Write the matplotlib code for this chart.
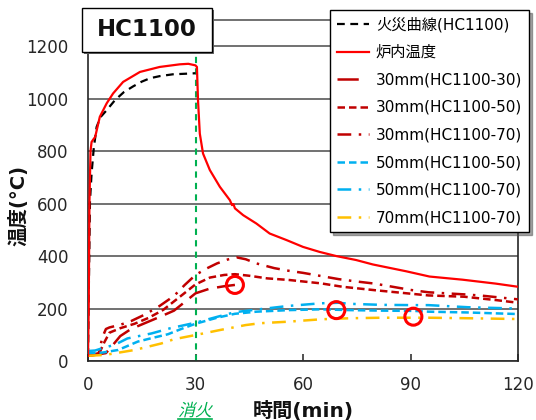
import matplotlib
matplotlib.use('Agg')
import matplotlib.pyplot as plt
from matplotlib.patches import Rectangle, PathPatch
from matplotlib.lines import Line2D
from matplotlib.textpath import TextPath
from matplotlib.font_manager import FontProperties
from matplotlib.transforms import Affine2D

plt.rcParams['font.family'] = ['DejaVu Sans', 'Noto Sans CJK JP']

# ---------------- data ----------------
x_ticks = [0, 30, 60, 90, 120]
y_ticks = [0, 200, 400, 600, 800, 1000, 1200]

fire_t = [0, 0.3, 0.55, 1.0, 1.6, 2.4, 3.5, 5.2, 7.5, 10, 12.6, 15, 17.3, 20, 23.7, 27, 30]
fire_T = [20, 350, 610, 716, 810, 892, 930, 956, 994, 1025, 1047, 1065, 1078, 1086, 1093, 1095, 1097]

furnace_t = [0, 0.2, 0.4, 0.7, 1.0, 1.5, 2.0, 3.3, 5.2, 7.0, 9.8, 14.5, 20, 25.6, 28, 30, 30.4, 30.7,
             31.2, 32.1, 34, 36.8, 39.6, 40.2, 40.6, 41.0, 43.3, 47, 50.7, 55.4, 60, 64.6, 69.3,
             74.8, 79.5, 88.8, 95.3, 104.5, 113.8, 120]
furnace_T = [20, 200, 600, 800, 835, 845, 854, 931, 982, 1020, 1064, 1102, 1121, 1131, 1133, 1127, 1121, 994,
             867, 791, 728, 664, 613, 594, 598, 582, 556, 524, 486, 461, 435, 416, 400,
             385, 368, 342, 322, 310, 295, 283]

s30_30_t = [0, 5, 7, 9, 12, 16, 20, 24, 27, 30, 34, 38, 41]
s30_30_T = [20, 30, 62, 95, 122, 145, 168, 192, 225, 258, 276, 285, 290]

s30_50_t = [0, 3, 4.5, 6, 9, 13, 17, 21, 25, 30, 34, 38, 41, 45, 50, 56, 65, 71, 80, 89, 95, 105, 114, 120]
s30_50_T = [20, 25, 70, 108, 125, 142, 165, 195, 238, 292, 318, 328, 331, 325, 315, 309, 296, 283, 270, 258, 250, 245, 232, 222]

s30_70_t = [0, 3, 4, 5, 6, 9, 12, 16, 20, 24, 27, 30, 33, 36, 39, 41.5, 44, 47, 52, 56, 60, 65, 70, 75, 80,
            85, 90, 95, 100, 105, 110, 115, 120]
s30_70_T = [20, 30, 90, 122, 128, 138, 152, 178, 210, 248, 290, 328, 352, 372, 387, 395, 388, 372, 354, 344,
            336, 324, 312, 303, 295, 283, 271, 262, 258, 254, 249, 242, 235]

s50_50_t = [0, 4, 8.4, 13.9, 18, 22.3, 26, 30, 36, 41, 47, 56, 65, 73, 82, 91, 95, 106, 120]
s50_50_T = [30, 32, 42, 74, 88, 102, 122, 142, 165, 180, 188, 194, 197, 194, 192, 191, 188, 185, 179]

s50_70_t = [0, 2, 4.3, 7.5, 11, 17.7, 23, 30, 36.5, 41, 47, 56, 65, 70, 73, 82, 91, 95, 106, 117, 120]
s50_70_T = [38, 40, 50, 62, 86, 105, 125, 146, 170, 186, 196, 210, 220, 222, 218, 214, 213, 213, 205, 201, 200]

s70_70_t = [0, 4.7, 13, 20.5, 24, 30, 36.8, 44, 48, 56, 65, 73, 82, 91, 95, 106, 120]
s70_70_T = [20, 23, 42, 67, 83, 99, 118, 137, 144, 150, 159, 163, 165, 165, 165, 163, 160]

mark_t = [41, 69.3, 90.8]
mark_T = [290, 194, 169]

labels = ['火災曲線(HC1100)', '炉内温度', '30mm(HC1100-30)', '30mm(HC1100-50)',
          '30mm(HC1100-70)', '50mm(HC1100-50)', '50mm(HC1100-70)', '70mm(HC1100-70)']

# ---------------- styles ----------------
RED = '#FF0000'
DRED = '#C00000'
BLUE = '#00B0F0'
GOLD = '#FFC000'
GREEN = '#00B050'
LW = 1.8
BLACKDASH = (0, (3.5, 2.5))
DASH = (0, (3.0, 1.6))
LONG = (0, (8.5, 3.5))
LONG_LEG = (0, (8.5, 8))
DASHDOT = (0, (5.5, 3, 1, 3))

W, H = 536, 420
fig = plt.figure(figsize=(W / 100, H / 100), dpi=100)
ax = fig.add_axes([88 / W, 59 / H, 430 / W, 341 / H])

ax.plot(fire_t, fire_T, color='black', lw=1.6, linestyle=BLACKDASH, zorder=3)
ax.plot(furnace_t, furnace_T, color=RED, lw=1.6, zorder=4)
ax.plot(s30_30_t, s30_30_T, color=DRED, lw=LW, linestyle=LONG, zorder=3)
ax.plot(s30_50_t, s30_50_T, color=DRED, lw=LW, linestyle=DASH, zorder=3)
ax.plot(s30_70_t, s30_70_T, color=DRED, lw=LW, linestyle=DASHDOT, zorder=3)
ax.plot(s50_50_t, s50_50_T, color=BLUE, lw=LW, linestyle=DASH, zorder=3)
ax.plot(s50_70_t, s50_70_T, color=BLUE, lw=LW, linestyle=DASHDOT, zorder=3)
ax.plot(s70_70_t, s70_70_T, color=GOLD, lw=LW, linestyle=DASHDOT, zorder=3)

ax.axvline(30, color=GREEN, lw=1.5, linestyle=(0, (3, 2.5)), zorder=2)
ax.scatter(mark_t, mark_T, s=150, facecolors='none', edgecolors=RED, linewidths=2.2, zorder=6)

ax.set_xlim(0, 120)
ax.set_ylim(0, 1300)
ax.set_xticks(x_ticks)
ax.set_yticks(y_ticks)
ax.tick_params(axis='x', direction='in', length=5, width=1.2, color='#333333',
               labelsize=12, labelcolor='#262626', pad=11)
ax.tick_params(axis='y', length=0, labelsize=12, labelcolor='#262626', pad=14)
ax.yaxis.grid(True, color='#595959', lw=1.2)
ax.set_axisbelow(True)
for side in ['left', 'bottom', 'right']:
    ax.spines[side].set_color('#262626')
    ax.spines[side].set_linewidth(1.2)
ax.spines['top'].set_color('#595959')
ax.spines['top'].set_linewidth(1.2)

handles = [
    Line2D([], [], color='black', lw=1.6, linestyle=BLACKDASH),
    Line2D([], [], color=RED, lw=1.6),
    Line2D([], [], color=DRED, lw=LW, linestyle=LONG_LEG),
    Line2D([], [], color=DRED, lw=LW, linestyle=DASH),
    Line2D([], [], color=DRED, lw=LW, linestyle=DASHDOT),
    Line2D([], [], color=BLUE, lw=LW, linestyle=DASH),
    Line2D([], [], color=BLUE, lw=LW, linestyle=DASHDOT),
    Line2D([], [], color=GOLD, lw=LW, linestyle=DASHDOT),
]
leg = ax.legend(handles, labels, loc='upper right', bbox_to_anchor=(529 / W, 1 - 10 / H),
                bbox_transform=fig.transFigure, borderaxespad=0, fontsize=11, frameon=True,
                fancybox=False, shadow=True, edgecolor='black', framealpha=1, handlelength=2.1,
                handletextpad=0.45, labelspacing=0.82, borderpad=0.45)
leg.get_frame().set_linewidth(1.0)
leg.set_zorder(10)

# HC1100 box
fig.patches.append(Rectangle(((82 + 2) / W, 1 - (52 + 2) / H), 130 / W, 44 / H,
                             transform=fig.transFigure, facecolor='#666666', edgecolor='none', zorder=9))
fig.patches.append(Rectangle((82 / W, 1 - 52 / H), 130 / W, 44 / H,
                             transform=fig.transFigure, facecolor='white', edgecolor='black', lw=1.0, zorder=10))
fig.text(147 / W, 1 - 30 / H, 'HC1100', fontsize=16.5, fontweight='bold', ha='center', va='center',
         color='#111111', zorder=11)

# axis labels
fig.text(18 / W, 1 - 205 / H, '温度(°C)', rotation=90, fontsize=14, fontweight='bold',
         ha='center', va='center', color='#111111')
fig.text(303 / W, 1 - 411 / H, '時間(min)', fontsize=14.5, fontweight='bold',
         ha='center', va='center', color='#111111')

# 消火 (italic via skew)
tp = TextPath((0, 0), '消火', size=17, prop=FontProperties(family='Noto Sans CJK JP'))
fig.add_artist(PathPatch(tp, transform=Affine2D().skew_deg(14, 0).translate(178, H - 416),
                         facecolor=GREEN, edgecolor='none'))
fig.add_artist(Line2D([178 / W, 212 / W], [1 - 418.5 / H, 1 - 418.5 / H], transform=fig.transFigure,
                      color=GREEN, lw=1.2))

fig.savefig('out.png', dpi=100)
